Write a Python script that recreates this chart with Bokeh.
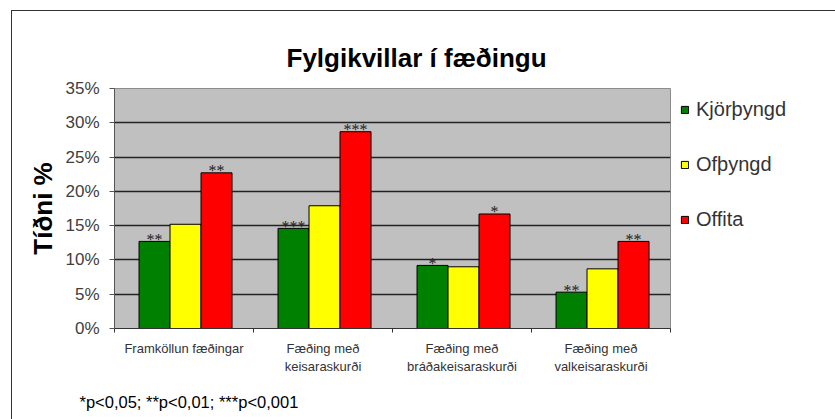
import numpy as np
from bokeh.plotting import figure
from bokeh.models import (ColumnDataSource, Range1d, FixedTicker, PrintfTickFormatter,
                          Legend, LegendItem, LabelSet, Title)
from bokeh.embed import file_html
from bokeh.resources import INLINE

# ---- data ----
categories = ["Framköllun fæðingar", "Fæðing með\nkeisaraskurði",
              "Fæðing með\nbráðakeisaraskurði", "Fæðing með\nvalkeisaraskurði"]
series = ["Kjörþyngd", "Ofþyngd", "Offita"]
kjorthyngd = [12.7, 14.6, 9.2, 5.3]
ofthyngd = [15.2, 17.9, 9.0, 8.7]
offita = [22.7, 28.7, 16.7, 12.7]
stars_kjor = ["**", "***", "*", "**"]
stars_of = ["", "", "", ""]
stars_offita = ["**", "***", "*", "**"]
y_ticks = [0, 5, 10, 15, 20, 25, 30, 35]
title_text = "Fylgikvillar í fæðingu"
y_label_text = "Tíðni %"
footnote_text = "*p<0,05; **p<0,01; ***p<0,001"

colors = ["#008000", "#ffff00", "#ff0000"]
offsets = [-0.212, 0.011, 0.234]
bar_w = 0.223
FONT = "Liberation Sans"

p = figure(frame_width=556, frame_height=240, x_range=Range1d(0, len(categories)),
           y_range=Range1d(y_ticks[0], y_ticks[-1]),
           output_backend="svg", toolbar_location=None,
           min_border_left=102, min_border_right=162, min_border_top=77, min_border_bottom=92,
           background_fill_color="#c0c0c0", border_fill_color="white")
p.margin = (10, 0, 0, 11)
p.outline_line_color = "#8c8c8c"
p.outline_line_width = 1
p.styles = {"border-top": "1px solid #333333", "border-left": "1px solid #333333",
            "border-right": "1px solid #333333"}

centers = np.arange(len(categories)) + 0.5
values = [kjorthyngd, ofthyngd, offita]
stars = [stars_kjor, stars_of, stars_offita]

items = []
for name, vals, st, col, off in zip(series, values, stars, colors, offsets):
    src = ColumnDataSource(dict(x=centers + off, top=vals, txt=st))
    r = p.vbar(x="x", top="top", width=bar_w, bottom=0, source=src,
               fill_color=col, line_color="#000000", line_width=1)
    items.append(LegendItem(label=name, renderers=[r]))
    ls = LabelSet(x="x", y="top", text="txt", source=src, text_align="center",
                  text_baseline="middle", y_offset=2, text_font_size="16px",
                  text_font=FONT, text_color="#222222")
    p.add_layout(ls)

# axes
xa = p.xaxis[0]
xa.ticker = FixedTicker(ticks=list(centers), minor_ticks=list(range(len(categories) + 1)))
xa.major_label_overrides = {float(c): lab for c, lab in zip(centers, categories)}
xa.major_tick_in = 0
xa.major_tick_out = 0
xa.minor_tick_in = 0
xa.minor_tick_out = 4
xa.minor_tick_line_color = "#333333"
xa.axis_line_color = "#333333"
xa.major_label_text_font = FONT
xa.major_label_text_font_size = "13px"
xa.major_label_text_color = "#333333"
xa.major_label_text_line_height = 1.2
xa.major_label_standoff = 8

ya = p.yaxis[0]
ya.ticker = FixedTicker(ticks=y_ticks)
ya.formatter = PrintfTickFormatter(format="%d%%")
ya.major_tick_in = 0
ya.major_tick_out = 5
ya.minor_tick_line_color = None
ya.axis_line_color = "#555555"
ya.major_tick_line_color = "#555555"
ya.major_label_text_font = FONT
ya.major_label_text_font_size = "17px"
ya.major_label_text_color = "#404040"
ya.major_label_standoff = 10
ya.axis_label = y_label_text
ya.axis_label_text_font = FONT
ya.axis_label_text_font_size = "26px"
ya.axis_label_text_font_style = "bold"
ya.axis_label_text_color = "#000000"
ya.axis_label_standoff = 4

p.xgrid.visible = False
p.ygrid.ticker = FixedTicker(ticks=y_ticks[1:-1])
p.ygrid.grid_line_color = "#222222"
p.ygrid.grid_line_width = 1.6

# title
p.title.text = title_text
p.title.align = "left"
p.title.offset = 172
p.title.text_font = FONT
p.title.text_font_size = "26px"
p.title.text_font_style = "bold"
p.title.text_color = "#000000"
p.title.standoff = 32

# footnote
p.add_layout(Title(text=footnote_text, align="left", offset=-35, standoff=28,
                   text_font=FONT, text_font_size="16.5px", text_font_style="normal",
                   text_color="#000000"), "below")

# legend
legend = Legend(items=items, location="top_left", orientation="vertical",
                glyph_width=9, glyph_height=9, label_standoff=7,
                label_text_font=FONT, label_text_font_size="20px",
                label_text_color="#333333", spacing=32, padding=0, margin=10,
                border_line_color=None, background_fill_alpha=0)
p.add_layout(legend, "right")

open("out.html", "w").write(file_html(p, INLINE))
